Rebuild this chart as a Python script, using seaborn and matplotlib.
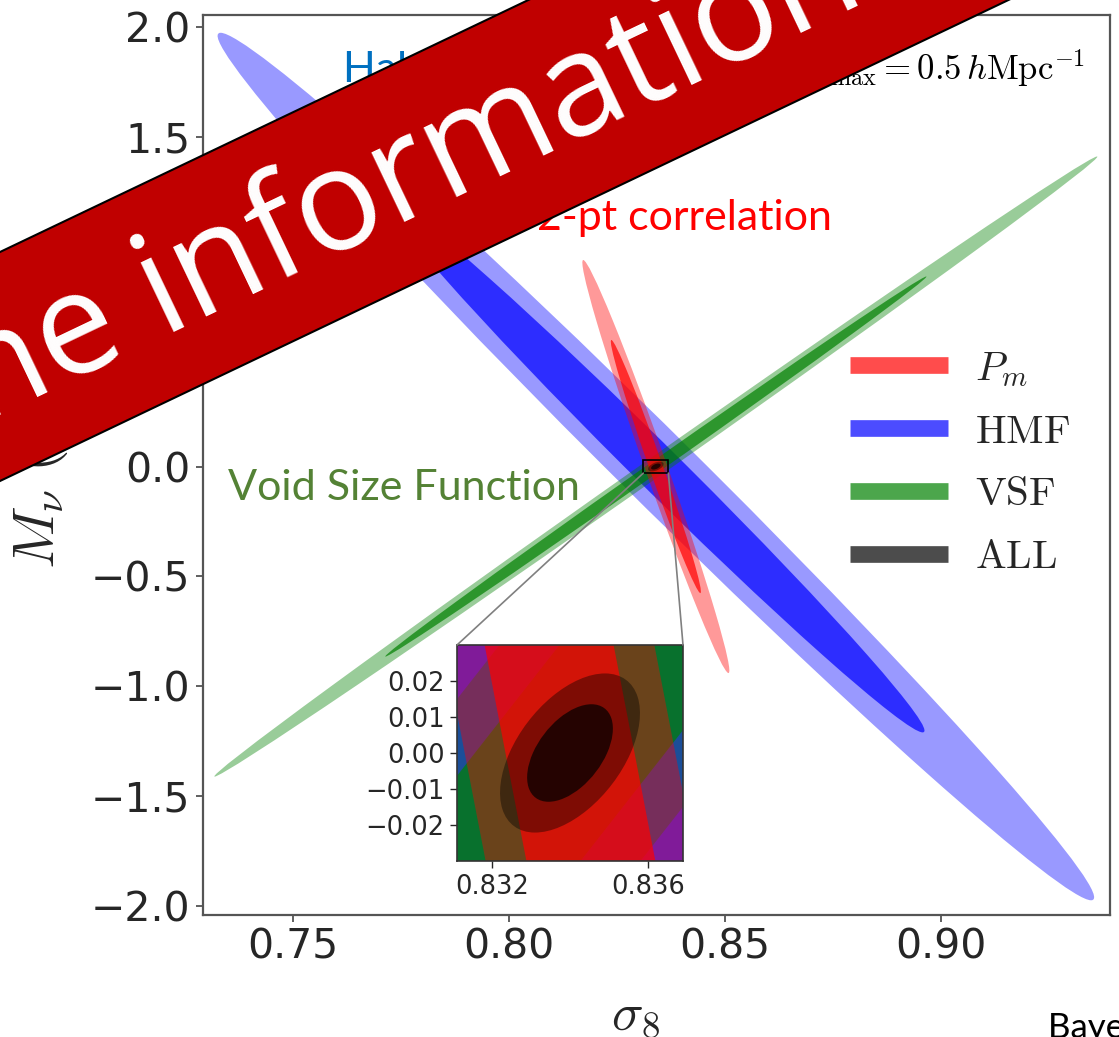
import numpy as np
import matplotlib
matplotlib.use("Agg")
import matplotlib.pyplot as plt
import seaborn as sns
from matplotlib.patches import Ellipse, Polygon, Rectangle, ConnectionPatch
from matplotlib.lines import Line2D

# ---------------- data ----------------
probe_names = ["P_m", "HMF", "VSF", "ALL"]
legend_labels = [r"$P_m$", r"$\mathrm{HMF}$", r"$\mathrm{VSF}$", r"$\mathrm{ALL}$"]
probe_colors = ["red", "blue", "green", "black"]
fid_sigma8 = 0.834
fid_mnu = 0.0
sigma_s8 = [0.00686, 0.0409, 0.0412, 0.000724]     # 1-sigma error on sigma_8
sigma_mnu = [0.379, 0.796, 0.569, 0.00891]         # 1-sigma error on M_nu
corr = [-0.9873, -0.993, 0.99924, 0.5]             # correlation coefficient
draw_order = ["HMF", "VSF", "P_m", "ALL"]

xticks = [0.75, 0.80, 0.85, 0.90]
xticklabels = ["0.75", "0.80", "0.85", "0.90"]
yticks = [-2.0, -1.5, -1.0, -0.5, 0.0, 0.5, 1.0, 1.5, 2.0]
yticklabels = ["\u22122.0", "\u22121.5", "\u22121.0", "\u22120.5", "0.0", "0.5", "1.0", "1.5", "2.0"]
inset_xticks = [0.832, 0.836]
inset_xticklabels = ["0.832", "0.836"]
inset_yticks = [-0.02, -0.01, 0.0, 0.01, 0.02]
inset_yticklabels = ["\u22120.02", "\u22120.01", "0.00", "0.01", "0.02"]

k_levels = [2.48, 1.52]          # 95% and 68% contours (2 dof)
level_alpha = [0.4, 0.7]

# ---------------- style ----------------
sns.set_theme(style="ticks")
plt.rcParams["font.family"] = ["DejaVu Sans"]
plt.rcParams["mathtext.fontset"] = "cm"
plt.rcParams["axes.edgecolor"] = "#444444"

W, H = 1119, 1037
fig = plt.figure(figsize=(W / 100, H / 100), dpi=100)
fig.patch.set_facecolor("white")


def fx(px):
    return px / W


def fy(py):
    return 1 - py / H


ax = fig.add_axes([fx(203), fy(915), fx(1110) - fx(203), fy(15) - fy(915)])
ax.set_facecolor("white")


def add_probe(a, name):
    i = probe_names.index(name)
    sx, sy, r = sigma_s8[i], sigma_mnu[i], corr[i]
    cov = np.array([[sx * sx, r * sx * sy], [r * sx * sy, sy * sy]])
    vals, vecs = np.linalg.eigh(cov)
    order = vals.argsort()[::-1]
    vals, vecs = vals[order], vecs[:, order]
    ang = np.degrees(np.arctan2(vecs[1, 0], vecs[0, 0]))
    for k, al in zip(k_levels, level_alpha):
        e = Ellipse((fid_sigma8, fid_mnu), 2 * k * np.sqrt(vals[0]), 2 * k * np.sqrt(vals[1]),
                    angle=ang, facecolor=probe_colors[i], edgecolor="none", alpha=al)
        a.add_patch(e)


for nm in draw_order:
    add_probe(ax, nm)

ax.set_xlim(0.7292, 0.9391)
ax.set_ylim(-2.041, 2.055)
ax.set_xticks(xticks)
ax.set_xticklabels(xticklabels)
ax.set_yticks(yticks)
ax.set_yticklabels(yticklabels)
ax.tick_params(labelsize=29.5, length=5, width=1.2, color="#444444", pad=4)
for s in ax.spines.values():
    s.set_linewidth(1.6)
    s.set_color("#555555")

ax.set_xlabel(r"$\sigma_8$", fontsize=38)
ax.set_ylabel(r"$M_\nu\ (\mathrm{eV})$", fontsize=42)
ax.xaxis.set_label_coords((636 - 203) / 907, -(988 - 915) / 900)
ax.yaxis.set_label_coords(-(203 - 70) / 907, 0.5)

# ---------------- inset ----------------
in_x0, in_x1 = 0.8311, 0.8369
in_y0, in_y1 = -0.030, 0.030
axins = fig.add_axes([fx(457), fy(861), fx(683) - fx(457), fy(645) - fy(861)])
for nm in draw_order:
    add_probe(axins, nm)
axins.set_xlim(in_x0, in_x1)
axins.set_ylim(in_y0, in_y1)
axins.set_xticks(inset_xticks)
axins.set_xticklabels(inset_xticklabels)
axins.set_yticks(inset_yticks)
axins.set_yticklabels(inset_yticklabels)
axins.tick_params(labelsize=18.5, length=5, width=1.0, pad=4)
for s in axins.spines.values():
    s.set_linewidth(1.2)
    s.set_color("#333333")

ax.add_patch(Rectangle((in_x0, in_y0), in_x1 - in_x0, in_y1 - in_y0, fill=False,
                       edgecolor="black", lw=1.2, zorder=5))
for xa, xb in [(in_x0, 0), (in_x1, 1)]:
    cp = ConnectionPatch(xyA=(xa, in_y0), coordsA=ax.transData, xyB=(xb, 1), coordsB=axins.transAxes,
                         color="0.5", lw=1.2)
    fig.add_artist(cp)

# ---------------- legend ----------------
handles = [Line2D([0], [0], color=c, lw=12, alpha=0.7, solid_capstyle="butt") for c in probe_colors]
fig.legend(handles, legend_labels, loc="center left", bbox_to_anchor=(fx(850), fy(463)),
           frameon=False, fontsize=29.5, handlelength=2.4, handletextpad=0.66,
           labelspacing=0.56, borderpad=0, borderaxespad=0)

# ---------------- annotations ----------------
fig.text(fx(343), fy(70), "Halo mass function", color="#0070C0", fontsize=31,
         family=["Lato", "DejaVu Sans"], ha="left", va="center")
fig.text(fx(1085), fy(80), r"$k_{\rm max}=0.5\,h{\rm Mpc}^{-1}$", color="black", fontsize=25,
         ha="right", va="baseline")
fig.text(fx(832), fy(218), "Matter 2-pt correlation", color="#FF0000", fontsize=31,
         family=["Lato", "DejaVu Sans"], ha="right", va="center")
fig.text(fx(228), fy(488), "Void Size Function", color="#548235", fontsize=31,
         family=["Lato", "DejaVu Sans"], ha="left", va="center")
fig.text(fx(1048), fy(1038), "Bayer et al. 2021", color="black", fontsize=25,
         family=["Lato", "DejaVu Sans"], ha="left", va="baseline")

# ---------------- banner ----------------
slope = np.tan(np.radians(25.5))
up_b, lo_b = 252, 481
xs = [-200, 1300]
poly_px = [(xs[0], up_b - slope * xs[0]), (xs[1], up_b - slope * xs[1]),
           (xs[1], lo_b - slope * xs[1]), (xs[0], lo_b - slope * xs[0])]
banner = Polygon([(fx(x), fy(y)) for x, y in poly_px], closed=True, transform=fig.transFigure,
                 facecolor="#C00000", edgecolor="black", lw=1.5, zorder=20)
fig.add_artist(banner)
fig.text(fx(-90), fy(458), "The information content", color="white", fontsize=102,
         family=["Open Sans", "DejaVu Sans"], rotation=25.5, rotation_mode="anchor",
         ha="left", va="baseline", zorder=21)

fig.savefig("out.png", dpi=100, facecolor="white")
